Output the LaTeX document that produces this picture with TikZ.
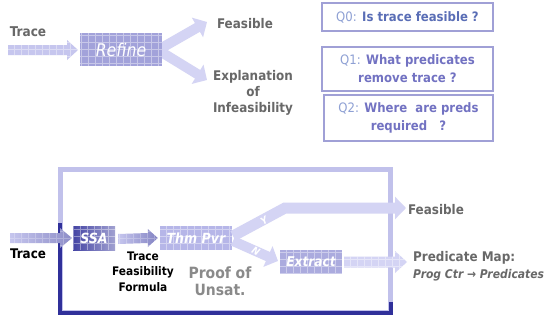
\documentclass[tikz,border=0pt]{standalone}
\usepackage{fontspec}
\setmainfont{DejaVu Sans Condensed}
\usetikzlibrary{arrows.meta,calc}
\definecolor{navy}{HTML}{30309A}
\definecolor{paleA}{HTML}{C6C6EE}
\definecolor{paleB}{HTML}{D4D4F4}
\definecolor{boxA}{HTML}{A2A2DA}
\definecolor{boxB}{HTML}{B6B6E8}
\definecolor{grayT}{HTML}{686868}
\definecolor{grayP}{HTML}{8A8A8A}
\definecolor{qborder}{HTML}{A0A0D6}
\definecolor{qlabel}{HTML}{8EA0D4}
\definecolor{qtext}{HTML}{5A6EB6}
\definecolor{qtextB}{HTML}{7272C2}
\newcommand\fsz[2]{\fontsize{#1}{#2}\selectfont}
\newcommand\fatarrow[6]{\path[#1] ($(#2)+(0,#4)$) -- ($(#3)+(-#6,#4)$) -- ($(#3)+(-#6,#5)$) -- (#3) -- ($(#3)+(-#6,-#5)$) -- ($(#3)+(-#6,-#4)$) -- ($(#2)+(0,-#4)$) -- cycle;}
\tikzset{
  gridpat/.style={path picture={\draw[white,opacity=#1,line width=0.7pt,step=7pt] (path picture bounding box.south west) grid (path picture bounding box.north east);}},
  gridpat/.default=0.4,
  procbox/.style={fill=boxB, gridpat, text=white, inner sep=0pt, minimum height=24pt, font=\bfseries\itshape\fsz{14}{15}},
  forkarrow/.style={draw=paleB, line width=10pt, -{Triangle[length=11pt,width=22pt]}},
  graytxt/.style={text=grayT, font=\bfseries\fsz{13.3}{16}, align=center, inner sep=0pt},
  qbox/.style={draw=qborder, line width=1.6pt, inner sep=0pt, align=center, text=qtextB, font=\bfseries\fsz{13}{18}},
  qlab/.style={text=qlabel}
}
\begin{document}
\begin{tikzpicture}[x=1pt,y=-1pt]
\fill[white] (0,0) rectangle (550,324);
\useasboundingbox (0,0) rectangle (550,324);

% ---------- top part ----------
\coordinate (trTopS) at (8,50);
\coordinate (trTopT) at (78,50);
\coordinate (forkO) at (158,50);
\coordinate (feasTipU) at (207,22);
\coordinate (explTip) at (207,80);

\node[graytxt, font=\bfseries\fsz{13.5}{14}] (traceTop) at (28,32) {Trace};
\fatarrow{fill=paleA, gridpat}{trTopS}{trTopT}{5}{10}{11}
\draw[forkarrow] (forkO) -- (feasTipU);
\draw[forkarrow] (forkO) -- (explTip);
\node[procbox, fill=boxA, minimum width=82pt, minimum height=33pt, font=\itshape\fsz{17.5}{18}] (refine) at (121,49.5) {Refine};
\node[graytxt] (feasTop) at (245,24) {Feasible};
\node[graytxt] (expl) at (253,93) {Explanation\\of\\Infeasibility};

\node[qbox, text=qtext, minimum width=171pt, minimum height=28pt] (q0) at (407.5,17) {{\mdseries\color{qlabel}Q0:} Is trace feasible ?};
\node[qbox, minimum width=171pt, minimum height=44pt] (q1) at (407.5,69) {{\mdseries\color{qlabel}Q1:} What predicates\\remove trace ?};
\node[qbox, minimum width=169pt, minimum height=46pt] (q2) at (408.5,118) {{\mdseries\color{qlabel}Q2:} Where\ \ are preds\\required\ \ \ ?};

% ---------- bottom part ----------
\draw[draw=boxB!85, line width=5pt] (60.5,169.5) rectangle (390.5,312.5);
\coordinate (fA) at (60,223);
\coordinate (fB) at (60,313);
\coordinate (fC) at (391,313);
\coordinate (fD) at (391,302);
\draw[navy, line width=4pt] (fA) -- (fB) -- (fC) -- (fD);

\node[procbox, minimum width=42pt, left color=navy!90, right color=navy!45] (ssa) at (94,238) {SSA};
\node[procbox, minimum width=72pt] (thm) at (196,238) {Thm Pvr};
\node[procbox, fill=boxA!90, minimum width=62pt, font=\bfseries\itshape\fsz{13.5}{15}] (extract) at (311,262) {Extract};

\coordinate (trS) at (10,238);
\coordinate (trT) at (72,238);
\fatarrow{left color=paleA, right color=navy!55, gridpat=0.25}{trS}{trT}{5}{10}{12}
\coordinate (fmS) at ($(ssa.east)+(3,1)$);
\coordinate (fmT) at ($(thm.west)+(-2,0)$);
\fatarrow{left color=paleA, right color=navy!60, gridpat=0.25}{fmS}{fmT}{5}{9}{10}

\coordinate (yStart) at (233,236);
\coordinate (yBend) at (285,208);
\coordinate (yTip) at (406,208);
\coordinate (nStart) at (233,241);
\coordinate (nTip) at (278,261);
\draw[forkarrow, line join=miter, line width=11pt] (yStart) -- (yBend) -- (yTip);
\draw[forkarrow] (nStart) -- (nTip);
\node[text=white, font=\bfseries\itshape\fsz{10}{10}, rotate=30, inner sep=0pt] (ylab) at (264,221) {Y};
\node[text=white, font=\bfseries\itshape\fsz{10}{10}, rotate=-30, inner sep=0pt] (nlab) at (256,251) {N};

\coordinate (prS) at ($(extract.east)+(2,0)$);
\coordinate (prT) at (407,262);
\fatarrow{fill=paleB, gridpat}{prS}{prT}{5.5}{11}{12}

\node[font=\bfseries\fsz{13.3}{14}, inner sep=0pt] (traceBot) at (28,254) {Trace};
\node[font=\bfseries\fsz{11.8}{15.5}, align=center, inner sep=0pt] (tff) at (143,271.5) {Trace\\Feasibility\\Formula};
\node[text=grayP, font=\bfseries\fsz{15.5}{17}, align=center, inner sep=0pt] (proof) at (220,281.5) {Proof of\\Unsat.};
\node[graytxt] (feasBot) at (436,210) {Feasible};
\node[graytxt, anchor=west] (predmap) at (413,258) {Predicate Map:};
\node[text=grayT, font=\bfseries\itshape\fsz{12}{12}, anchor=west, inner sep=0pt] (progctr) at (413,275) {Prog Ctr → Predicates};
\end{tikzpicture}
\end{document}
